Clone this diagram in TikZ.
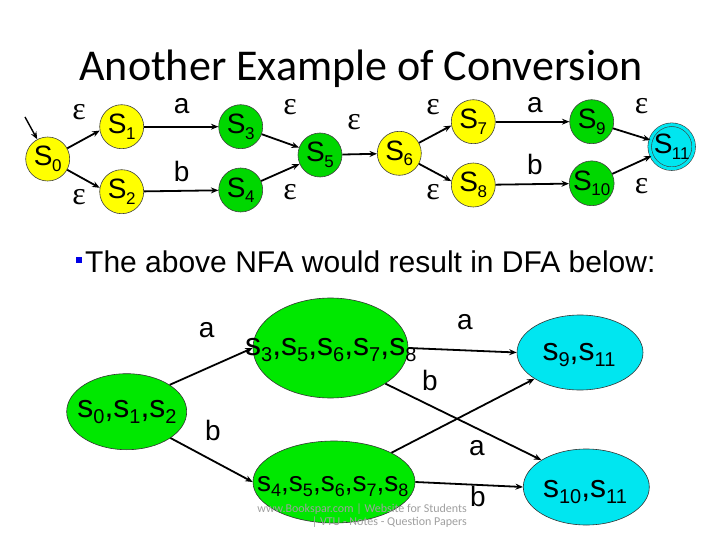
\documentclass[tikz,border=0pt]{standalone}
\usepackage{fontspec}
\setmainfont{Liberation Sans}
\newfontfamily\titlefont{Carlito}
\newfontfamily\epsfont{Liberation Serif}
\usetikzlibrary{arrows.meta,shapes.geometric}

\definecolor{nyellow}{RGB}{255,255,0}
\definecolor{ngreen}{RGB}{0,215,0}
\definecolor{dgreen}{RGB}{0,232,0}
\definecolor{ncyan}{RGB}{0,230,240}
\definecolor{wgray}{RGB}{160,160,160}
\definecolor{bulletblue}{RGB}{0,0,230}

\newcommand{\tsub}[1]{\raisebox{-5.5pt}{\fontsize{17}{17}\selectfont #1}}
\newcommand{\Sn}[1]{S\kern-0.5pt\tsub{#1}}
\newcommand{\bsn}[1]{s\raisebox{-6pt}{\fontsize{20}{20}\selectfont #1}}
\newcommand{\csn}[1]{s\raisebox{-5pt}{\fontsize{18}{18}\selectfont #1}}

\tikzset{
  x=1pt, y=-1pt,
  nstate/.style={circle, draw=black!75, line width=0.6pt, minimum size=44pt, inner sep=0pt,
    font=\fontsize{28}{28}\selectfont},
  ys/.style={nstate, fill=nyellow},
  gs/.style={nstate, fill=ngreen},
  edge/.style={-{Stealth[length=7.5pt,width=6pt]}, line width=1.8pt},
  eps/.style={font=\epsfont\fontsize{32}{32}\selectfont, inner sep=0pt, text height=14pt, text depth=0pt},
  lab/.style={font=\fontsize{28}{28}\selectfont, inner sep=0pt, text height=15pt, text depth=0pt},
  labb/.style={font=\fontsize{28}{28}\selectfont, inner sep=0pt, text height=20pt, text depth=0pt},
  dstate/.style={ellipse, draw=black!80, line width=0.6pt, inner sep=0pt},
  dtext/.style={inner sep=0pt, font=\fontsize{32}{32}\selectfont},
  ctext/.style={inner sep=0pt, font=\fontsize{28}{28}\selectfont},
}

\begin{document}
\begin{tikzpicture}
\useasboundingbox[fill=white] (0,0) rectangle (720,540);

% title
\node[anchor=base, inner sep=0pt, text depth=0pt, font=\titlefont\fontsize{44}{44}\selectfont] (title) at (361,81) {Another Example of Conversion};

% NFA
\node[ys] (S0) at (47.7,159) {\Sn{0}};
\node[ys] (S1) at (121.7,126.7) {\Sn{1}};
\node[ys] (S2) at (121.7,191.7) {\Sn{2}};
\node[gs] (S3) at (240.7,126.7) {\Sn{3}};
\node[gs] (S4) at (240.7,190) {\Sn{4}};
\node[gs] (S5) at (320,155) {\Sn{5}};
\node[ys] (S6) at (399.3,153.3) {\Sn{6}};
\node[ys] (S7) at (473.3,121.7) {\Sn{7}};
\node[ys] (S8) at (473.3,185) {\Sn{8}};
\node[gs] (S9) at (591.7,121.7) {\Sn{9}};
\node[gs] (S10) at (591.7,183.3) {\Sn{10}};
\node[nstate, fill=ncyan, double=ncyan, double distance=3pt] (S11) at (671.7,146.7) {\Sn{11}};

\coordinate (init) at (25,117);
\draw[edge, line width=1.4pt] (init) -- (S0.118);
\draw[edge] (S0) -- (S1.190);
\draw[edge] (S0) -- (S2.170);
\draw[edge] (S1) -- (S3);
\draw[edge] (S2) -- (S4);
\draw[edge] (S3) -- (S5);
\draw[edge] (S4) -- (S5);
\draw[edge] (S5) -- (S6);
\draw[edge] (S6) -- (S7.190);
\draw[edge] (S6) -- (S8.170);
\draw[edge] (S7) -- (S9);
\draw[edge] (S8) -- (S10);
\draw[edge] (S9) -- (S11);
\draw[edge] (S10) -- (S11);

\node[eps] (e1) at (79,113) {ε};
\node[eps] (e2) at (79,198) {ε};
\node[lab] (l1) at (181.7,106) {a};
\node[labb] (l2) at (181.7,172) {b};
\node[eps] (e3) at (290,108) {ε};
\node[eps] (e4) at (290,193) {ε};
\node[eps] (e5) at (354,123) {ε};
\node[eps] (e6) at (433,108) {ε};
\node[eps] (e7) at (433,193) {ε};
\node[lab] (l3) at (535,105) {a};
\node[labb] (l4) at (535,165) {b};
\node[eps] (e8) at (641.7,107) {ε};
\node[eps] (e9) at (641.7,187) {ε};

% bullet line
\node[fill=bulletblue, minimum size=6.5pt, inner sep=0pt] (bul) at (79,260) {};
\node[anchor=base west, inner sep=0pt, font=\fontsize{30}{30}\selectfont] (btext) at (85,272) {The above NFA would result in DFA below:};

% DFA
\node[dstate, fill=dgreen, minimum width=120pt, minimum height=76pt] (A) at (126.7,411.7) {};
\node[dstate, fill=dgreen, minimum width=155pt, minimum height=100pt] (B) at (330.5,348) {};
\node[dstate, fill=dgreen, minimum width=162pt, minimum height=82pt] (C) at (334,482) {};
\node[dstate, fill=ncyan, minimum width=126pt, minimum height=75pt] (D) at (580,352.5) {};
\node[dstate, fill=ncyan, minimum width=126pt, minimum height=76pt] (E) at (586.3,487) {};

\node[dtext] (tA) at (127,412) {\bsn{0},\bsn{1},\bsn{2}};
\node[dtext, anchor=west] (tB) at (245,350) {\bsn{3},\bsn{5},\bsn{6},\bsn{7},\bsn{8}};
\node[ctext, anchor=west] (tC) at (257,487) {\csn{4},\csn{5},\csn{6},\csn{7},\csn{8}};
\node[dtext] (tD) at (579,355) {\bsn{9},\bsn{11}};
\node[dtext] (tE) at (585,492) {\bsn{10},\bsn{11}};

\draw[edge] (A.32) -- (B.180);
\draw[edge] (A.-31) -- (C.180);
\draw[edge] (B.0) -- (D.180);
\draw[edge] (B.-33) -- (E.149);
\draw[edge] (C.27) -- (D.210);
\draw[edge] (C.0) -- (E.180);

\node[lab] (m1) at (206.7,330) {a};
\node[labb] (m2) at (213,430) {b};
\node[lab] (m3) at (465,322) {a};
\node[labb] (m4) at (430,380) {b};
\node[lab] (m5) at (477,448) {a};
\node[labb] (m6) at (478,496) {b};

% watermark
\node[anchor=base east, inner sep=0pt, text=wgray, font=\titlefont\fontsize{12}{12}\selectfont] (w1) at (467,512) {www.Bookspar.com | Website for Students};
\node[anchor=base east, inner sep=0pt, text=wgray, font=\titlefont\fontsize{12}{12}\selectfont] (w2) at (467,525) {| VTU - Notes - Question Papers};
\end{tikzpicture}
\end{document}
